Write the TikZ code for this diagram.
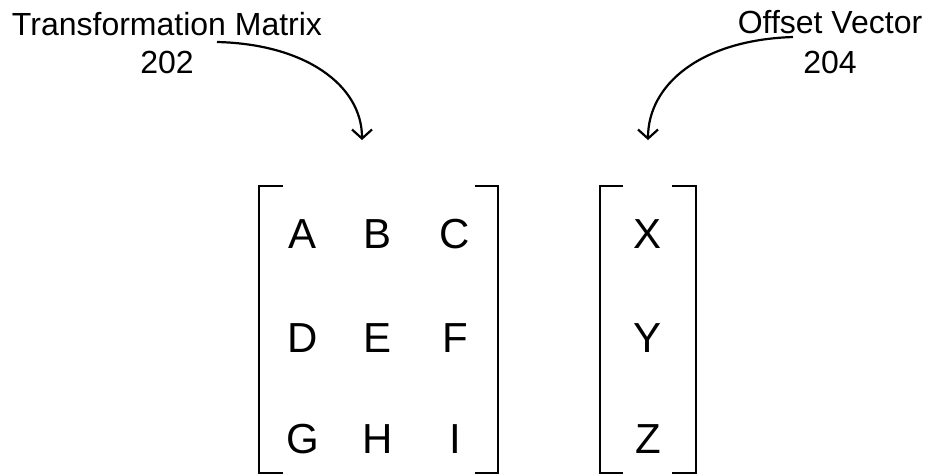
\documentclass[tikz,border=0pt]{standalone}
\usepackage{fontspec}
\setmainfont{Liberation Sans}
\usetikzlibrary{arrows.meta}
\begin{document}
\begin{tikzpicture}[x=1pt,y=-1pt,
  entry/.style={font=\fontsize{42}{46}\selectfont, anchor=base, inner sep=0pt},
  caption/.style={font=\fontsize{32}{35}\selectfont, anchor=base, inner sep=0pt, align=center},
  bracket/.style={line width=2.2pt, line cap=butt},
  pointer/.style={line width=2.2pt, -{Straight Barb[length=9pt, width=20pt, line width=2.2pt]}}]
  \useasboundingbox (0,0) rectangle (930,475);

  % captions
  \node[caption] (tmlabel) at (167,35) {Transformation Matrix};
  \node[caption] (tmnum) at (167,73) {202};
  \node[caption] (ovlabel) at (830,33) {Offset Vector};
  \node[caption] (ovnum) at (830,73) {204};

  % matrix entries
  \foreach \name/\txt/\x/\y in {a/A/303/248, b/B/378/248, c/C/455/248,
                                d/D/303/352, e/E/378/352, f/F/455/352,
                                g/G/303/453, h/H/378/453, i/I/455/453}
    \node[entry] (\name) at (\x,\y) {\txt};

  % vector entries
  \foreach \name/\txt/\y in {x/X/248, y/Y/352, z/Z/453}
    \node[entry] (\name) at (648,\y) {\txt};

  % brackets of the matrix
  \draw[bracket] (283,186) -- (259,186) -- (259,473) -- (283,473);
  \draw[bracket] (475,186) -- (498,186) -- (498,473) -- (475,473);
  % brackets of the vector
  \draw[bracket] (623,186) -- (600,186) -- (600,473) -- (623,473);
  \draw[bracket] (672,186) -- (696,186) -- (696,473) -- (672,473);

  % pointers from the captions
  \coordinate (tmstart) at (217,42);
  \coordinate (tmend) at (362,140);
  \coordinate (ovstart) at (793,37);
  \coordinate (ovend) at (648,140);
  \draw[pointer] (tmstart) .. controls (305,44) and (362,85) .. (tmend);
  \draw[pointer] (ovstart) .. controls (700,40) and (648,85) .. (ovend);
\end{tikzpicture}
\end{document}
